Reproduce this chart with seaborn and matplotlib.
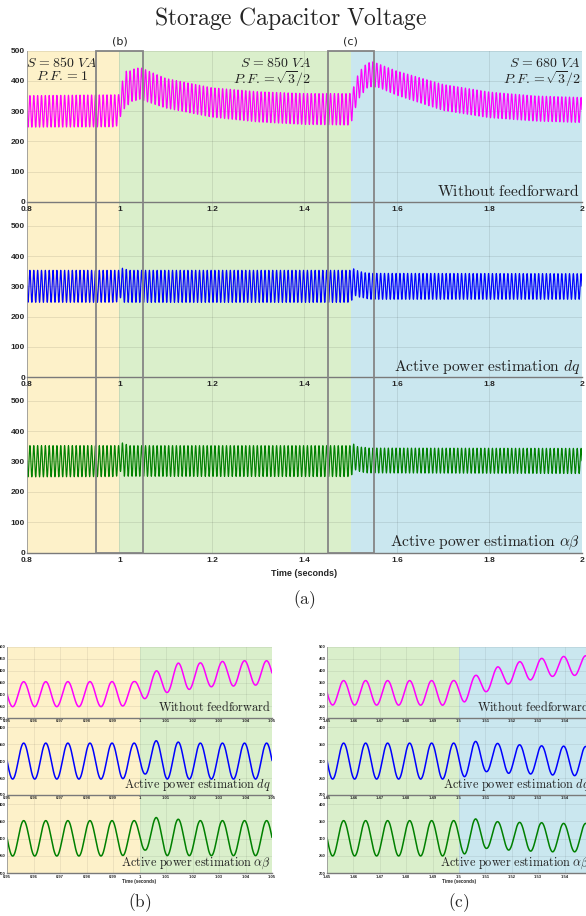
import numpy as np
import pandas as pd
import matplotlib
matplotlib.use("Agg")
import matplotlib.pyplot as plt
import seaborn as sns
from matplotlib.patches import Rectangle
from matplotlib.transforms import blended_transform_factory

# ---------------- data ----------------
ripple_hz = 120.0          # capacitor ripple frequency
ripple_peak_ref = 0.9563   # time of a ripple crest (s)

# "Without feedforward" envelope (upper crests / lower troughs)
mag_up_t = [0.80, 0.998, 1.0063, 1.0146, 1.023, 1.0313, 1.0396, 1.048, 1.10, 1.20, 1.30, 1.40,
            1.4979, 1.5063, 1.5146, 1.523, 1.5313, 1.5396, 1.548, 1.60, 1.70, 1.80, 1.90, 2.00]
mag_up_v = [351, 354, 399, 432, 433, 439, 442, 442, 408, 377, 364, 358,
            358, 380, 416, 438, 452, 460, 463, 432, 388, 363, 350, 345]
mag_lo_t = [0.80, 0.993, 1.0021, 1.0105, 1.0188, 1.0271, 1.0355, 1.0438, 1.10, 1.20, 1.30, 1.40,
            1.4938, 1.5021, 1.5105, 1.5188, 1.5271, 1.5355, 1.5438, 1.56, 1.60, 1.70, 1.80, 1.90, 2.00]
mag_lo_v = [247, 248, 282, 308, 321, 332, 335, 339, 310, 280, 264, 256,
            254, 268, 312, 344, 361, 376, 380, 378, 352, 302, 278, 267, 262]

# "Active power estimation dq" envelope
dq_up_t = [0.80, 0.998, 1.0063, 1.0146, 1.023, 1.4979, 1.5063, 1.5146, 1.523, 1.5313, 1.5396, 1.548, 2.00]
dq_up_v = [353, 353, 360, 356, 353, 353, 358, 352, 348, 345, 344, 343, 342]
dq_lo_t = [0.80, 0.993, 1.0021, 1.0105, 1.4938, 1.5021, 1.5105, 1.5188, 1.5271, 1.5355, 1.5438, 2.00]
dq_lo_v = [247, 247, 262, 247, 247, 254, 269, 264, 262, 259, 257, 257]

# "Active power estimation alpha-beta" envelope
ab_up_t = [0.80, 0.998, 1.0063, 1.0146, 1.023, 1.4979, 1.5063, 1.5146, 1.523, 1.5313, 1.5396, 1.548, 2.00]
ab_up_v = [352, 352, 361, 356, 352, 352, 357, 349, 347, 346, 344, 344, 343]
ab_lo_t = [0.80, 0.993, 1.0021, 1.0105, 1.4938, 1.5021, 1.5105, 1.5188, 1.5271, 1.5355, 1.5438, 2.00]
ab_lo_v = [249, 250, 267, 251, 250, 256, 272, 267, 264, 262, 262, 260]

series_names = [r"$\mathrm{Without\ feedforward}$",
                r"$\mathrm{Active\ power\ estimation}\ dq$",
                r"$\mathrm{Active\ power\ estimation}\ \alpha\beta$"]
series_colors = ["#ff00ff", "#0000ff", "#008000"]

segment_edges = [0.8, 1.0, 1.5, 2.0]
segment_colors = ["#fdf1c9", "#daefcb", "#cae7ef"]

load_labels = [r"$S\,= 850\ VA$" + "\n" + r"$P.\!F. = 1$",
               r"$S\,= 850\ VA$" + "\n" + r"$P.\!F. =\!\sqrt{3}/2$",
               r"$S\,= 680\ VA$" + "\n" + r"$P.\!F. =\!\sqrt{3}/2$"]

main_xticks = [0.8, 1.0, 1.2, 1.4, 1.6, 1.8, 2.0]
main_xticklabels = ["0.8", "1", "1.2", "1.4", "1.6", "1.8", "2"]
main_yticks = [0, 100, 200, 300, 400, 500]

zoom_windows = [(0.95, 1.05), (1.45, 1.55)]
zoom_names = ["(b)", "(c)"]
zoom_xticks = [[0.95, 0.96, 0.97, 0.98, 0.99, 1.00, 1.01, 1.02, 1.03, 1.04, 1.05],
               [1.45, 1.46, 1.47, 1.48, 1.49, 1.50, 1.51, 1.52, 1.53, 1.54, 1.55]]
zoom_xticklabels = [["0.95", "0.96", "0.97", "0.98", "0.99", "1", "1.01", "1.02", "1.03", "1.04", "1.05"],
                    ["1.45", "1.46", "1.47", "1.48", "1.49", "1.5", "1.51", "1.52", "1.53", "1.54", "1.55"]]
zoom_yticks = [[200, 250, 300, 350, 400, 450, 500], [200, 250, 300, 350, 400], [200, 250, 300, 350, 400]]
zoom_ylims = [(200, 500), (200, 427), (200, 426)]

envelopes = [(mag_up_t, mag_up_v, mag_lo_t, mag_lo_v),
             (dq_up_t, dq_up_v, dq_lo_t, dq_lo_v),
             (ab_up_t, ab_up_v, ab_lo_t, ab_lo_v)]


def waveform(t, env):
    ut, uv, lt, lv = env
    up = np.interp(t, ut, uv)
    lo = np.interp(t, lt, lv)
    return (up + lo) / 2 + (up - lo) / 2 * np.cos(2 * np.pi * ripple_hz * (t - ripple_peak_ref))


# ---------------- style ----------------
sns.set_style("white")
plt.rcParams["mathtext.fontset"] = "cm"
plt.rcParams["font.family"] = ["DejaVu Sans"]
TICKFONT = dict(family="Liberation Sans", weight="bold")

W, H = 586, 916
fig = plt.figure(figsize=(W / 100, H / 100), dpi=100)


def fx(px):
    return px / W


def fy(py):
    return 1 - py / H


def style_axes(ax, xticks, xlabels, yticks, tsize, glw=0.7):
    ax.set_facecolor("none")
    ax.set_xticks(xticks)
    ax.set_xticklabels(xlabels, fontsize=tsize, **TICKFONT)
    ax.set_yticks(yticks)
    ax.set_yticklabels([str(v) for v in yticks], fontsize=tsize, **TICKFONT)
    ax.tick_params(direction="in", length=2.5, width=0.6, color="#666666", pad=1.5)
    ax.grid(True, color="#000000", alpha=0.09, lw=glw)
    for s in ["top", "right"]:
        ax.spines[s].set_visible(False)
    ax.spines["bottom"].set_color("#7a7a7a")
    ax.spines["bottom"].set_linewidth(1.0)
    ax.spines["left"].set_color("#9a9a9a")
    ax.spines["left"].set_linewidth(0.6)
    ax.set_xlabel("")
    ax.set_ylabel("")


def spans(ax, x0, x1):
    for a, b, c in zip(segment_edges[:-1], segment_edges[1:], segment_colors):
        lo, hi = max(a, x0), min(b, x1)
        if hi > lo:
            ax.axvspan(lo, hi, color=c, lw=0, zorder=0)


# ---------------- main panels (a) ----------------
L, R = 27, 582
main_rows = [(50.5, 202, (0, 500)), (202, 377, (0, 579)), (377, 552.5, (0, 578))]
t_main = np.arange(0.8, 2.0 + 1e-9, 1 / 48000)
main_axes = []
for i, (top, bot, ylim) in enumerate(main_rows):
    ax = fig.add_axes([fx(L), fy(bot), fx(R - L), (bot - top) / H])
    ax.set_zorder(3 - i)
    spans(ax, 0.8, 2.0)
    df = pd.DataFrame({"t": t_main, "v": waveform(t_main, envelopes[i])})
    sns.lineplot(data=df, x="t", y="v", ax=ax, color=series_colors[i], lw=0.85,
                 estimator=None, errorbar=None, sort=False, zorder=2)
    ax.set_xlim(0.8, 2.0)
    ax.set_ylim(*ylim)
    style_axes(ax, main_xticks, main_xticklabels, main_yticks, 6)
    ax.tick_params(axis="x", pad=3)
    ax.text(0.996, 6 / (bot - top), series_names[i], transform=ax.transAxes, ha="right",
            va="baseline", fontsize=11.2, color="#222222", zorder=5)
    main_axes.append(ax)

ax1 = main_axes[0]
tr1 = blended_transform_factory(ax1.transData, ax1.transAxes)
ax1.text(0.875, 0.965, load_labels[0], transform=tr1, ha="center", va="top", fontsize=10,
         linespacing=0.95, multialignment="center", color="#222222")
ax1.text(1.414, 0.965, load_labels[1], transform=tr1, ha="right", va="top", fontsize=10,
         linespacing=0.95, multialignment="right", color="#222222")
ax1.text(1.997, 0.965, load_labels[2], transform=tr1, ha="right", va="top", fontsize=10,
         linespacing=0.95, multialignment="right", color="#222222")

# zoom boxes spanning the three panels
btr = blended_transform_factory(ax1.transData, fig.transFigure)
for (x0, x1), nm in zip(zoom_windows, zoom_names):
    fig.add_artist(Rectangle((x0, fy(552.5)), x1 - x0, (552.5 - 50.5) / H, transform=btr,
                             fill=False, ec="#858585", lw=1.3, zorder=20, clip_on=False))
    fig.text((x0 + x1) / 2, fy(41), nm, transform=btr, ha="center", va="center",
             fontsize=8, color="#222222")

fig.text(fx((L + R) / 2), fy(573), "Time (seconds)", ha="center", va="center",
         fontsize=6.5, **TICKFONT)
fig.text(fx((L + R) / 2), fy(600), r"$\mathrm{(a)}$", ha="center", va="center", fontsize=12.5)
fig.text(0.495, fy(19), r"$\mathrm{Storage\ Capacitor\ Voltage}$", ha="center", va="center",
         fontsize=17)

# ---------------- zoomed panels (b), (c) ----------------
sub_rows = [(647, 718), (718, 795), (795, 873.3)]
sub_lefts = [(7, 272), (327, 591)]
for k, (x0, x1) in enumerate(zoom_windows):
    sl, sr = sub_lefts[k]
    t_sub = np.arange(x0, x1 + 1e-9, 1 / 12000)
    for i, (top, bot) in enumerate(sub_rows):
        ax = fig.add_axes([fx(sl), fy(bot), fx(sr - sl), (bot - top) / H])
        ax.set_zorder(3 - i)
        spans(ax, x0, x1)
        df = pd.DataFrame({"t": t_sub, "v": waveform(t_sub, envelopes[i])})
        sns.lineplot(data=df, x="t", y="v", ax=ax, color=series_colors[i], lw=1.1,
                     estimator=None, errorbar=None, sort=False, zorder=2)
        ax.set_xlim(x0, x1)
        ax.set_ylim(*zoom_ylims[i])
        style_axes(ax, zoom_xticks[k], zoom_xticklabels[k], zoom_yticks[i], 3, glw=0.5)
        ax.tick_params(length=1.5, pad=1)
        ax.text(0.997, 7 / (bot - top), series_names[i], transform=ax.transAxes, ha="right",
                va="baseline", fontsize=8.8, color="#222222", zorder=5)
    fig.text(fx((sl + sr) / 2), fy(882), "Time (seconds)", ha="center", va="center",
             fontsize=3.3, **TICKFONT)
    fig.text(fx((sl + sr) / 2), fy(903), r"$\mathrm{" + zoom_names[k] + "}$", ha="center",
             va="center", fontsize=12.5)

fig.savefig("out.png", dpi=100)
